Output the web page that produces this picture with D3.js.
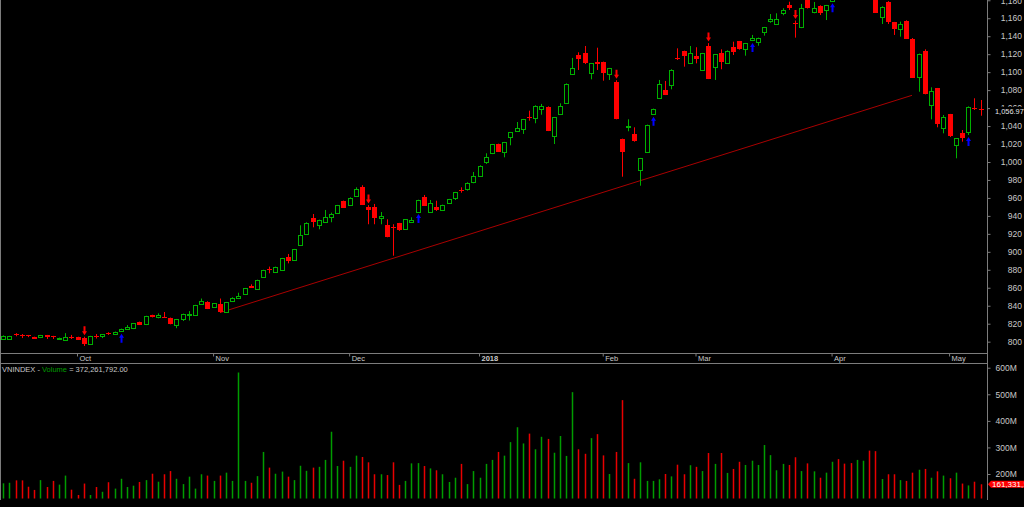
<!DOCTYPE html>
<html>
<head>
<meta charset="utf-8">
<script src="https://cdn.jsdelivr.net/npm/d3@7"></script>
<style>
  html, body { margin: 0; padding: 0; background: #000; overflow: hidden; }
  svg { display: block; font-family: "Liberation Sans", Arial, sans-serif; }
</style>
</head>
<body>
<div id="chart"></div>
<script>
// VNINDEX daily candles, mid Sep 2017 -> early May 2018
const openP = [
  802.7,802.7,808.2,807.1,807.0,805.2,804.5,807.1,806.0,803.0,
  802.7,805.2,805.2,804.1,797.0,806.3,805.6,810.0,808.6,811.5,
  814.5,814.5,821.9,818.9,829.7,827.9,827.9,826.4,817.8,825.3,
  829.4,829.0,842.3,844.2,837.9,841.9,833.0,845.7,849.4,852.3,
  862.3,858.9,871.7,881.3,877.2,879.8,893.9,890.2,907.3,920.6,
  937.7,930.2,932.9,938.4,942.9,956.6,952.9,961.4,972.2,950.3,
  950.3,938.0,929.9,928.0,931.8,925.1,932.9,944.7,961.0,944.3,
  949.6,946.9,954.0,959.9,969.2,970.0,977.4,984.8,999.2,1009.2,
  1020.0,1010.8,1027.5,1034.5,1036.4,1049.7,1049.7,1058.6,1061.5,1028.2,
  1053.1,1066.0,1097.6,1119.1,1121.0,1099.1,1111.6,1111.3,1097.6,1089.4,
  1025.6,1039.3,1031.2,990.3,1010.8,1053.1,1071.6,1080.1,1086.5,1115.4,
  1123.5,1109.8,1118.0,1102.1,1129.1,1105.4,1121.7,1111.0,1128.3,1134.3,
  1125.4,1135.0,1133.2,1143.9,1156.9,1153.3,1165.5,1174.7,1154.4,1149.5,
  1185.0,1167.0,1174.0,1168.4,1179.2,1195,1197,1196,1192,1198,
  1199,1185.0,1161.8,1178.4,1155.5,1147.7,1157.3,1137.2,1094.9,1123.9,
  1064.2,1082.0,1037.5,1053.1,1018.2,1031.9,1033.7,1060.1,1058.5
];
const highP = [
  807.0,806.5,809.5,808.5,807.5,805.5,807.5,807.5,806.5,804.5,
  809.5,807.5,805.5,805.5,806.5,808.5,808.5,810.5,811.2,814.5,
  818.5,820.8,822.3,828.8,830.0,831.5,833.0,826.8,825.3,831.2,
  834.0,841.0,848.0,845.0,843.0,848.0,844.2,849.4,854.5,859.8,
  863.8,869.0,880.0,883.5,883.5,893.2,897.6,903.2,929.5,932.9,
  942.1,935.8,946.6,943.6,952.2,957.0,960.7,971.8,974.1,952.0,
  953.3,944.3,936.2,930.7,932.2,936.5,938.4,958.0,963.3,957.7,
  956.9,952.5,958.9,966.7,971.8,977.4,988.9,996.3,1009.7,1020.1,
  1020.4,1022.3,1033.4,1044.5,1047.9,1057.1,1063.1,1064.6,1061.9,1050.1,
  1065.3,1087.5,1115.8,1122.1,1129.1,1110.2,1127.2,1111.7,1104.7,1091.0,
  1026.0,1047.5,1038.6,1004.5,1041.6,1059.4,1091.3,1090.2,1103.2,1126.5,
  1123.9,1129.1,1127.7,1121.4,1132.3,1120.2,1125.4,1124.3,1133.9,1134.7,
  1132.5,1141.4,1138.4,1150.3,1164.7,1165.5,1171.1,1178.4,1157.5,1175.9,
  1188.0,1178.1,1174.4,1174.8,1190.0,1198,1200,1199,1211,1206,
  1200,1186.0,1173.3,1179.0,1155.9,1156.2,1157.7,1138.0,1120.6,1125.4,
  1083.1,1082.4,1052.3,1053.5,1026.7,1035.6,1061.9,1070.9,1069.0
];
const lowP = [
  802.0,802.0,806.0,804.0,805.0,803.0,804.0,803.0,803.0,802.7,
  802.5,803.0,802.0,795.2,796.5,803.5,804.0,807.5,808.0,811.0,
  814.2,814.0,818.5,818.5,827.0,826.0,826.5,819.3,815.0,823.0,
  823.5,828.8,842.0,836.3,837.5,832.3,832.7,845.3,848.5,852.0,
  859.8,858.5,871.3,876.1,876.8,879.5,887.2,889.9,907.0,920.3,
  927.3,925.1,932.5,932.9,942.5,948.8,952.5,961.0,952.1,930.7,
  930.7,930.7,916.2,895.7,923.3,924.8,932.5,944.3,951.0,944.0,
  945.5,946.5,953.5,957.7,965.8,968.1,976.3,984.4,997.8,1008.8,
  1011.2,1005.2,1018.6,1033.4,1031.2,1046.0,1043.1,1052.6,1034.4,1020.0,
  1052.7,1065.6,1097.2,1102.4,1109.0,1092.0,1102.4,1090.5,1091.3,1047.5,
  983.6,1034.2,1022.6,973.6,1010.4,1052.7,1070.5,1074.5,1080.9,1113.5,
  1106.1,1109.4,1109.8,1101.7,1092.3,1091.3,1103.2,1110.6,1119.1,1125.0,
  1118.3,1134.6,1129.4,1140.6,1155.0,1153.0,1163.3,1169.2,1138.4,1149.0,
  1170.8,1165.5,1163.6,1158.0,1178.8,1184,1186,1185,1188,1193,
  1182,1165.9,1153.6,1153.6,1141.4,1139.5,1137.3,1094.0,1078.2,1075.3,
  1047.5,1038.6,1031.9,1027.8,1004.1,1022.6,1030.0,1057.9,1051.5
];
const closeP = [
  806.3,806.0,807.1,805.6,805.6,803.4,807.1,805.3,804.5,804.1,
  805.6,804.1,802.2,797.8,806.3,805.0,808.2,808.6,810.8,814.1,
  816.4,820.4,818.9,828.3,827.2,829.7,826.7,819.7,824.9,830.8,
  830.8,840.5,845.3,836.7,842.7,832.7,843.8,849.0,851.2,859.4,
  860.1,868.7,879.5,879.8,883.1,892.8,889.8,902.8,918.4,932.5,
  933.6,935.4,938.4,941.8,951.8,949.1,960.3,969.6,952.5,947.4,
  938.0,940.2,916.9,927.3,923.6,936.2,935.4,957.7,951.4,954.0,
  945.8,952.1,958.5,966.3,968.1,977.0,984.4,995.9,1005.2,1019.7,
  1011.5,1021.9,1033.0,1037.8,1047.5,1048.2,1062.7,1062.3,1034.8,1049.7,
  1062.0,1087.1,1104.3,1114.6,1109.4,1109.8,1109.8,1099.4,1104.3,1047.9,
  1011.5,1040.4,1023.0,1004.1,1041.2,1059.0,1086.8,1074.9,1102.8,1113.9,
  1118.3,1121.0,1115.0,1121.0,1092.7,1119.8,1111.3,1123.9,1122.8,1125.4,
  1132.1,1137.7,1138.0,1149.9,1158.8,1158.8,1168.8,1171.4,1153.5,1171.1,
  1171.1,1171.1,1166.3,1174.4,1185.0,1188,1190,1189,1204,1202,
  1186,1166.3,1172.9,1156.2,1147.7,1153.3,1137.7,1094.3,1120.2,1075.7,
  1079.4,1042.3,1049.7,1028.2,1026.3,1026.3,1061.5,1058.6,1056.97
];
// volume in millions of shares
const volumeM = [
  165,167,176,176,152,140,177,151,174,160,
  194,141,121,164,121,151,133,169,145,182,
  151,156,170,177,201,171,199,211,182,162,
  190,145,199,194,174,194,205,174,582,174,
  167,192,283,224,201,209,190,177,231,212,
  224,227,253,359,230,250,227,269,264,244,
  199,199,196,244,159,174,240,241,230,221,
  214,199,170,186,238,162,211,186,238,253,
  283,269,320,376,315,352,293,340,332,280,
  343,268,508,293,276,335,350,270,200,283,
  478,241,182,244,174,174,180,200,191,235,
  199,233,227,211,279,238,279,204,219,246,
  234,250,234,309,271,214,238,234,263,211,
  240,210,186,205,246,256,239,241,253,250,
  288,286,181,199,199,177,174,205,216,219,
  186,210,194,184,205,164,157,171,161.33112
];

const monthTickIdx = [12, 34, 56, 77, 97, 112, 134, 153];
const monthTickLabels = ["Oct", "Nov", "Dec", "2018", "Feb", "Mar", "Apr", "May"];
const sellIdx = [13, 59, 99, 114, 128];
const buyIdx = [19, 67, 105, 121, 134, 156];
const trendIdx = [35, 147];
const trendVal = [832.3, 1074.2];
const priceTicks = d3.range(800, 1181, 20);
const volumeTicks = [200, 300, 400, 500, 600];
const volumeTitle = ["VNINDEX - ", "Volume", " = 372,261,792.00"];

const W = 1024, H = 507;
const plotRight = 987;
const green = "#00b000", red = "#ff0000", volGreen = "#009c00", gray = "#7c7c7c", txt = "#c8c8c8";

const svg = d3.select("#chart").append("svg")
  .attr("width", W).attr("height", H);

svg.append("rect").attr("width", W).attr("height", H).attr("fill", "#000");

const n = closeP.length;
const x = d3.scaleBand().domain(d3.range(n)).range([0.2, 983.6]);
const cx = i => Math.round(x(i) + x.bandwidth() / 2);

const yP = d3.scaleLinear().domain([788.5, 1180.3]).range([352, 0]);
const yV = d3.scaleLinear().domain([107.8, 614]).range([498.5, 364]);

const defs = svg.append("defs");
defs.append("clipPath").attr("id", "clipP")
  .append("rect").attr("x", 0).attr("y", 0).attr("width", plotRight).attr("height", 352.5);
defs.append("clipPath").attr("id", "clipV")
  .append("rect").attr("x", 0).attr("y", 364).attr("width", plotRight).attr("height", 135);

// frame lines
svg.append("line").attr("x1", 0.5).attr("x2", 0.5).attr("y1", 0).attr("y2", 500).attr("stroke", gray);
svg.append("line").attr("x1", plotRight + 0.5).attr("x2", plotRight + 0.5).attr("y1", 0).attr("y2", 500).attr("stroke", gray);
svg.append("line").attr("x1", 0).attr("x2", plotRight).attr("y1", 353.5).attr("y2", 353.5).attr("stroke", gray);
svg.append("line").attr("x1", 0).attr("x2", plotRight).attr("y1", 363.5).attr("y2", 363.5).attr("stroke", gray);

// price panel
const gP = svg.append("g").attr("clip-path", "url(#clipP)");

gP.append("line")
  .attr("x1", cx(trendIdx[0])).attr("y1", yP(trendVal[0]))
  .attr("x2", cx(trendIdx[1])).attr("y2", yP(trendVal[1]))
  .attr("stroke", "#a80000").attr("stroke-width", 1);

const idx = d3.range(n);
const up = i => closeP[i] > openP[i];

gP.selectAll(".wick").data(idx).enter().append("line")
  .attr("x1", i => cx(i) + 0.5).attr("x2", i => cx(i) + 0.5)
  .attr("y1", i => yP(highP[i])).attr("y2", i => yP(lowP[i]))
  .attr("stroke", i => up(i) ? green : red);

gP.selectAll(".body").data(idx).enter().append("rect")
  .attr("x", i => up(i) ? cx(i) - 1.5 : cx(i) - 2)
  .attr("width", i => up(i) ? 4 : 5)
  .attr("y", i => Math.round(yP(Math.max(openP[i], closeP[i]))) + (up(i) ? 0.5 : 0))
  .attr("height", i => Math.max(1, Math.round(Math.abs(yP(openP[i]) - yP(closeP[i])))))
  .attr("fill", i => up(i) ? "#000" : red)
  .attr("stroke", i => up(i) ? green : "none");

function arrowPath(c, tip, dir) {
  // dir = 1 points down, -1 points up
  const s = dir;
  return `M${c - 0.5},${tip - s * 9} L${c + 1.5},${tip - s * 9} L${c + 1.5},${tip - s * 4} L${c + 3},${tip - s * 4}` +
    ` L${c + 0.5},${tip} L${c - 2},${tip - s * 4} L${c - 0.5},${tip - s * 4} Z`;
}

gP.selectAll(".sell").data(sellIdx).enter().append("path")
  .attr("d", i => arrowPath(cx(i), yP(highP[i]) - 1.5, 1))
  .attr("fill", red);

gP.selectAll(".buy").data(buyIdx).enter().append("path")
  .attr("d", i => arrowPath(cx(i), yP(lowP[i]) + 2, -1))
  .attr("fill", "#0000ff");

// price axis
const axP = svg.append("g").attr("transform", `translate(${plotRight + 0.5},0)`)
  .call(d3.axisRight(yP).tickValues(priceTicks).tickSize(3).tickFormat(d3.format(",")));
axP.select(".domain").remove();
axP.selectAll("line").attr("stroke", gray);
axP.selectAll("text").attr("x", 34.5).attr("text-anchor", "end")
  .attr("fill", txt).style("font-size", "8.5px").style("font-family", "Liberation Sans, Arial, sans-serif");

// last price label
const lastY = yP(closeP[n - 1]);
svg.append("rect").attr("x", 990).attr("y", lastY - 4).attr("width", 34).attr("height", 9).attr("fill", "#000");
svg.append("text").attr("x", 995).attr("y", lastY + 3).attr("fill", "#e6e6e6")
  .style("font-size", "7.4px").text(d3.format(",.2f")(closeP[n - 1]));

// date axis
const axD = svg.append("g").attr("transform", "translate(0,353.5)")
  .call(d3.axisBottom(x).tickValues(monthTickIdx).tickSize(3).tickFormat((d, k) => monthTickLabels[k]));
axD.select(".domain").remove();
axD.selectAll("line").attr("stroke", gray);
axD.selectAll("text").attr("x", 2).attr("y", 2).attr("dy", "0.71em").attr("text-anchor", "start")
  .attr("fill", txt).style("font-size", "7.5px").style("font-family", "Liberation Sans, Arial, sans-serif")
  .style("font-weight", (d, k) => monthTickLabels[k] === "2018" ? "bold" : "normal");

// volume panel
const gV = svg.append("g").attr("clip-path", "url(#clipV)");
gV.selectAll(".vol").data(idx).enter().append("rect")
  .attr("x", i => cx(i) - 0.25).attr("width", 1.5)
  .attr("y", i => yV(volumeM[i])).attr("height", i => yV.range()[0] - yV(volumeM[i]))
  .attr("fill", i => up(i) ? volGreen : "#e80000");

const axV = svg.append("g").attr("transform", `translate(${plotRight + 0.5},0)`)
  .call(d3.axisRight(yV).tickValues(volumeTicks).tickSize(3).tickFormat(d => d + "M"));
axV.select(".domain").remove();
axV.selectAll("line").attr("stroke", gray);
axV.selectAll("text").attr("x", 8).attr("text-anchor", "start")
  .attr("fill", txt).style("font-size", "8.5px").style("font-family", "Liberation Sans, Arial, sans-serif");

// last volume label
const lastV = yV(volumeM[n - 1]);
svg.append("path")
  .attr("d", `M${plotRight + 1},${lastV} L${plotRight + 4},${lastV - 3.5} L${W},${lastV - 3.5} L${W},${lastV + 3.5} L${plotRight + 4},${lastV + 3.5} Z`)
  .attr("fill", red);
svg.append("text").attr("x", 992).attr("y", lastV + 3).attr("fill", "#fff")
  .style("font-size", "8px").text(d3.format(",.2f")(volumeM[n - 1] * 1e6));

// volume title
const title = svg.append("text").attr("x", 2).attr("y", 371.5).style("font-size", "7.5px");
title.selectAll("tspan").data(volumeTitle).enter().append("tspan")
  .attr("fill", (d, k) => k === 1 ? volGreen : txt)
  .text(d => d);
</script>
</body>
</html>
